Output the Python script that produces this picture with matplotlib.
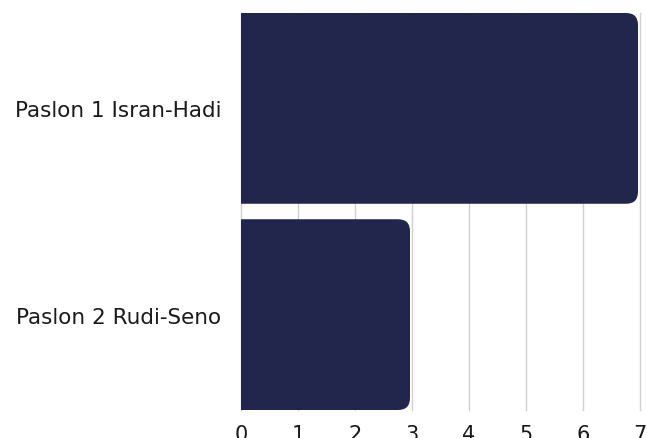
import matplotlib
matplotlib.use("Agg")
import matplotlib.pyplot as plt
from matplotlib.path import Path
from matplotlib.patches import PathPatch
import numpy as np

categories = ["Paslon 1 Isran-Hadi", "Paslon 2 Rudi-Seno"]
values = [7, 3]
xticks = [0, 1, 2, 3, 4, 5, 6, 7]

bar_color = "#23264c"
grid_color = "#d0d0d0"
text_color = "#1a1a1a"

plt.rcParams['font.family'] = ['DejaVu Sans']

fig = plt.figure(figsize=(6.47, 4.39), dpi=100)
ax = fig.add_axes([241/647, 1-411/439, 399/647, 397/439])

pos = np.arange(len(categories))
height = 0.925
ax.set_xlim(0, 7)
ax.set_ylim(pos[-1] + height/2, pos[0] - height/2)
ax.set_xticks(xticks)
ax.set_yticks(pos)
ax.set_yticklabels(categories)
ax.tick_params(axis='both', length=0, colors=text_color)
ax.tick_params(axis='y', pad=14, labelsize=15.5)
ax.tick_params(axis='x', pad=10, labelsize=15)
for s in ax.spines.values():
    s.set_visible(False)
ax.grid(axis='x', color=grid_color, linewidth=1)
for gl in ax.get_xgridlines():
    gl.set_clip_on(False)
ax.set_axisbelow(True)

bars = ax.barh(pos, values, height=height, color=bar_color, alpha=0)

r = 12  # corner radius in pixels
for b in bars:
    x0, y0 = b.get_x(), b.get_y()
    x1, y1 = x0 + b.get_width(), y0 + b.get_height()
    (px0, py0), (px1, py1) = ax.transData.transform([(x0, y0), (x1, y1)])
    left, right = min(px0, px1), max(px0, px1)
    bot, top = min(py0, py1), max(py0, py1)
    right -= 2
    verts = [(left, bot), (right - r, bot), (right, bot), (right, bot + r),
             (right, top - r), (right, top), (right - r, top), (left, top), (left, bot)]
    codes = [Path.MOVETO, Path.LINETO, Path.CURVE3, Path.CURVE3,
             Path.LINETO, Path.CURVE3, Path.CURVE3, Path.LINETO, Path.CLOSEPOLY]
    patch = PathPatch(Path(verts, codes), facecolor=bar_color, edgecolor='none',
                      transform=None, zorder=3)
    fig.add_artist(patch)

fig.savefig("out.png", dpi=100)
